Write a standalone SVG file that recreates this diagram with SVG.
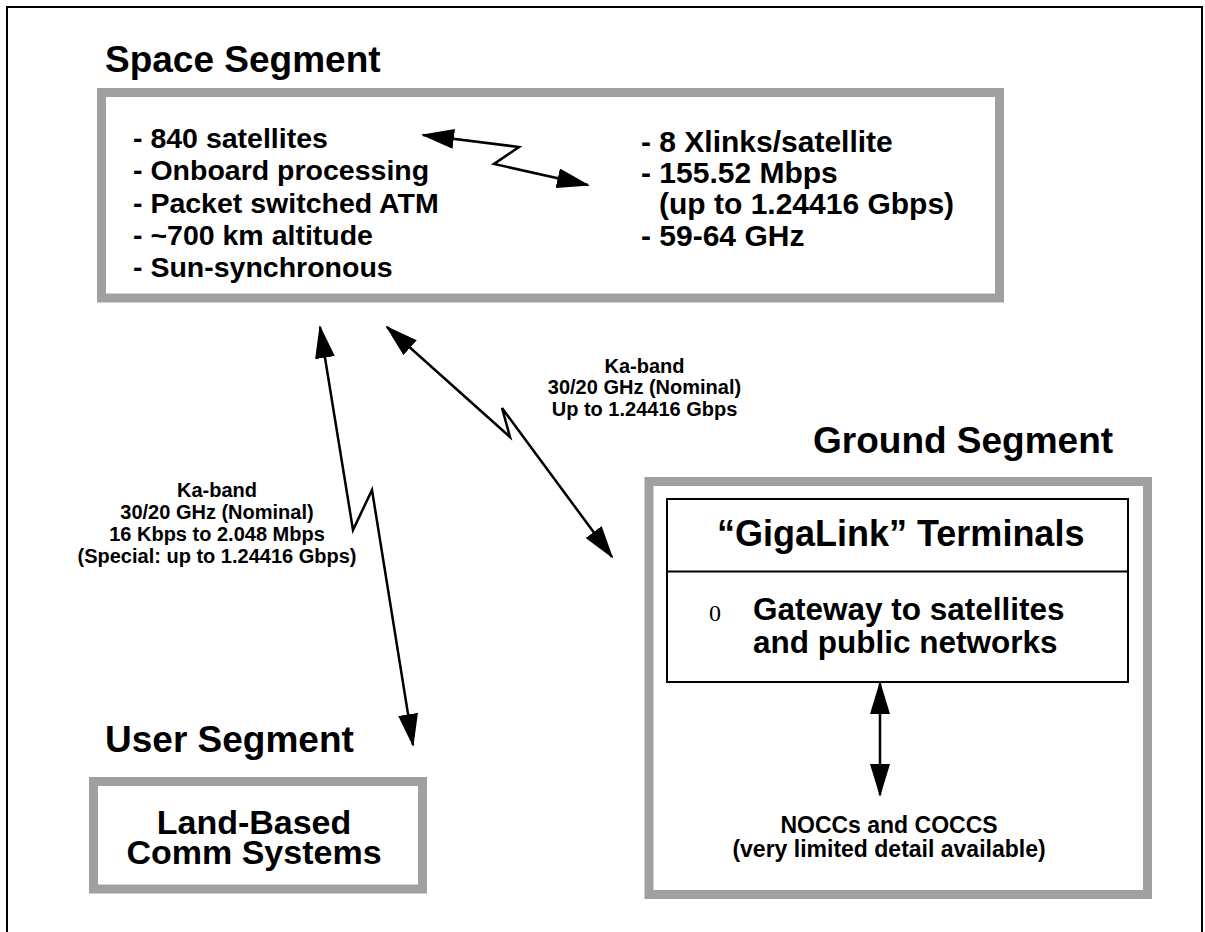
<svg xmlns="http://www.w3.org/2000/svg" width="1205" height="932" viewBox="0 0 1205 932">
  <defs>
    <marker id="head" markerWidth="33" markerHeight="20" refX="31" refY="10" orient="auto-start-reverse" markerUnits="userSpaceOnUse">
      <path d="M0,0 L33,10 L0,20 Z" fill="#000"/>
    </marker>
    <style>
      text { font-family: "Liberation Sans", Arial, Helvetica, sans-serif; font-weight: bold; fill: #000; }
      .title { font-size: 37px; }
      .bul { font-size: 28.5px; }
      .bulr { font-size: 30px; }
      .lbl { font-size: 20px; text-anchor: middle; }
      .seg { fill: #fff; stroke: #a0a0a0; stroke-width: 9; }
      .link { fill: none; stroke: #000; stroke-width: 2.5; stroke-linejoin: miter; marker-start: url(#head); marker-end: url(#head); }
    </style>
  </defs>

  <rect width="1205" height="932" fill="#fff"/>
  <!-- page frame -->
  <rect x="7" y="7" width="1195" height="950" fill="none" stroke="#000" stroke-width="2"/>

  <!-- space segment -->
  <g id="space-segment">
    <text class="title" x="105" y="72">Space Segment</text>
    <rect class="seg" x="101.5" y="92.5" width="898" height="205.5"/>
    <text class="bul" x="133" y="148">- 840 satellites</text>
    <text class="bul" x="133" y="180">- Onboard processing</text>
    <text class="bul" x="133" y="212.5">- Packet switched ATM</text>
    <text class="bul" x="133" y="245">- ~700 km altitude</text>
    <text class="bul" x="133" y="277">- Sun-synchronous</text>
    <text class="bulr" x="641" y="151.5">- 8 Xlinks/satellite</text>
    <text class="bulr" x="641" y="182.5">- 155.52 Mbps</text>
    <text class="bulr" x="659" y="213.5">(up to 1.24416 Gbps)</text>
    <text class="bulr" x="641" y="245.5">- 59-64 GHz</text>
  </g>

  <!-- ground segment -->
  <g id="ground-segment">
    <text class="title" x="813" y="453">Ground Segment</text>
    <rect class="seg" x="649" y="481.5" width="498.5" height="413"/>
    <rect x="667" y="499" width="461" height="183" fill="none" stroke="#000" stroke-width="2"/>
    <line x1="667" y1="571.5" x2="1128" y2="571.5" stroke="#000" stroke-width="2"/>
    <text x="717" y="546" style="font-size:36px">“GigaLink” Terminals</text>
    <text x="709" y="621" style="font-family:'Liberation Serif','Times New Roman',serif;font-weight:normal;font-size:24px">0</text>
    <text x="753" y="620" style="font-size:31.5px">Gateway to satellites</text>
    <text x="753" y="653" style="font-size:31.5px">and public networks</text>
    <text x="889" y="833" style="font-size:23px;text-anchor:middle">NOCCs and COCCS</text>
    <text x="889" y="857" style="font-size:23px;text-anchor:middle">(very limited detail available)</text>
  </g>

  <!-- user segment -->
  <g id="user-segment">
    <text class="title" x="105" y="752">User Segment</text>
    <rect class="seg" x="93.5" y="781.5" width="329" height="107.5"/>
    <text x="254" y="834" style="font-size:34px;text-anchor:middle">Land-Based</text>
    <text x="254" y="864" style="font-size:34px;text-anchor:middle">Comm Systems</text>
  </g>

  <!-- link labels -->
  <g id="label-gateway-link">
    <text class="lbl" x="644.5" y="373">Ka-band</text>
    <text class="lbl" x="644.5" y="394">30/20 GHz (Nominal)</text>
    <text class="lbl" x="644.5" y="416">Up to 1.24416 Gbps</text>
  </g>
  <g id="label-user-link">
    <text class="lbl" x="217" y="497">Ka-band</text>
    <text class="lbl" x="217" y="519">30/20 GHz (Nominal)</text>
    <text class="lbl" x="217" y="541">16 Kbps to 2.048 Mbps</text>
    <text class="lbl" x="217" y="563">(Special: up to 1.24416 Gbps)</text>
  </g>

  <!-- connectors -->
  <g id="connectors">
    <polyline class="link" points="423,135 519,147 494,164 588,185"/>
    <polyline class="link" points="320,327 353,530 372,490 413,745"/>
    <polyline class="link" points="387,327 510,437 502,408 612,557"/>
    <line class="link" x1="880" y1="683" x2="880" y2="795"/>
  </g>
</svg>
